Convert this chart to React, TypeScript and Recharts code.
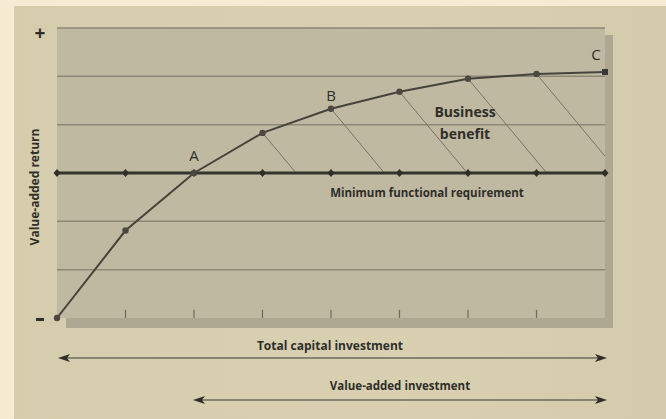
import { ComposedChart, Line, XAxis, YAxis, CartesianGrid, ReferenceLine, ReferenceDot } from 'recharts';

// investment steps along the x axis (0..8), return on a 0..6 scale
const steps = [0, 1, 2, 3, 4, 5, 6, 7, 8];
const returns = [0, 1.81, 3.0, 3.83, 4.33, 4.68, 4.95, 5.05, 5.09];
const minimumLevel = 3;
const gridLevels = [1, 2, 3, 4, 5, 6];
const tickSteps = [1, 2, 3, 4, 5, 6, 7];

// hatch lines from the curve down to the minimum line
const hatchFrom = [3, 4, 5, 6, 7];
const hatchTo = [
  { x: 3.49, y: 3 },
  { x: 4.78, y: 3 },
  { x: 5.99, y: 3 },
  { x: 7.15, y: 3 },
  { x: 8, y: 3.35 },
];

const pointLabels = [
  { x: 2, y: 3.35, text: 'A' },
  { x: 4, y: 4.6, text: 'B' },
  { x: 7.87, y: 5.45, text: 'C' },
];

const data = steps.map((s, i) => ({ step: s, value: returns[i], minimum: minimumLevel }));

const INK = '#45433b';
const FONT = '"Open Sans", "DejaVu Sans", sans-serif';

const Diamond = (props: any) => {
  const { cx, cy } = props;
  if (cx == null || cy == null) return null;
  return <path d={`M${cx} ${cy - 4}L${cx + 3.5} ${cy}L${cx} ${cy + 4}L${cx - 3.5} ${cy}Z`} fill="#2f2e29" />;
};

const Dot = (props: any) => {
  const { cx, cy, index } = props;
  if (cx == null || cy == null) return null;
  if (index === returns.length - 1) {
    return <rect x={cx - 3} y={cy - 3} width={6} height={6} fill="#3a3933" />;
  }
  return <circle cx={cx} cy={cy} r={3.2} fill="#4a4840" />;
};

function Arrow({ x1, x2, y }: { x1: number; x2: number; y: number }) {
  return (
    <g>
      <line x1={x1 + 6} x2={x2 - 6} y1={y} y2={y} stroke="#6d695c" strokeWidth={1.5} />
      <path d={`M${x1} ${y}L${x1 + 12} ${y - 4}L${x1 + 9} ${y}L${x1 + 12} ${y + 4}Z`} fill="#2f2e29" />
      <path d={`M${x2} ${y}L${x2 - 12} ${y - 4}L${x2 - 9} ${y}L${x2 - 12} ${y + 4}Z`} fill="#2f2e29" />
    </g>
  );
}

export default function App() {
  return (
    <div style={{ position: 'absolute', left: 0, top: 0, width: 666, height: 419, background: '#f6ecd4', overflow: 'hidden' }}>
      <div style={{ position: 'absolute', left: 14, top: 6, width: 652, height: 413, background: 'linear-gradient(90deg, #d6cdad 0%, #d9d0b2 60%, #d4cbac 100%)' }} />
      <div style={{ position: 'absolute', left: 66, top: 35, width: 547, height: 293, background: '#aea792' }} />
      <div style={{ position: 'absolute', left: 0, top: 0 }}>
        <ComposedChart width={666} height={419} data={data} margin={{ top: 28, right: 61, bottom: 101, left: 57 }}>
          <CartesianGrid
            vertical={false}
            fill="#c0b9a2"
            stroke="#8c8776"
            strokeWidth={1.5}
            horizontalValues={gridLevels}
          />
          <XAxis dataKey="step" type="number" domain={[0, 8]} hide />
          <YAxis type="number" domain={[0, 6]} hide />
          {tickSteps.map((t) => (
            <ReferenceLine key={`t${t}`} segment={[{ x: t, y: 0 }, { x: t, y: 0.17 }]} stroke="#6d695c" strokeWidth={1.2} />
          ))}
          {hatchFrom.map((h, i) => (
            <ReferenceLine
              key={`h${h}`}
              segment={[{ x: h, y: returns[h] }, hatchTo[i]]}
              stroke="#77736a"
              strokeWidth={1}
            />
          ))}
          <Line
            type="linear"
            dataKey="minimum"
            stroke="#35342e"
            strokeWidth={3}
            dot={<Diamond />}
            isAnimationActive={false}
          />
          <Line
            type="linear"
            dataKey="value"
            stroke={INK}
            strokeWidth={2}
            dot={<Dot />}
            isAnimationActive={false}
          />
          {pointLabels.map((p) => (
            <ReferenceDot
              key={p.text}
              x={p.x}
              y={p.y}
              r={0}
              label={{ value: p.text, position: 'center', fill: '#2f2e29', fontSize: 15, fontFamily: FONT }}
            />
          ))}
        </ComposedChart>
      </div>
      <svg width={666} height={419} style={{ position: 'absolute', left: 0, top: 0, pointerEvents: 'none' }}>
        <g fontFamily={FONT} fontWeight="bold" fill="#2f2e29">
          <text x={465} y={117} fontSize={14} textAnchor="middle">Business</text>
          <text x={465} y={139} fontSize={14} textAnchor="middle">benefit</text>
          <text x={427} y={197} fontSize={11.5} textAnchor="middle">Minimum functional requirement</text>
          <text x={330} y={350} fontSize={12} textAnchor="middle">Total capital investment</text>
          <text x={400} y={390} fontSize={11.5} textAnchor="middle">Value-added investment</text>
          <text x={36} y={187} fontSize={12} textAnchor="middle" transform="rotate(-90 36 187)" dominantBaseline="middle">Value-added return</text>
          <text x={40} y={40} fontSize={19} textAnchor="middle">+</text>
          <rect x={36} y={318} width={8} height={3} />
        </g>
        <Arrow x1={58} x2={607} y={358} />
        <Arrow x1={193} x2={607} y={400} />
      </svg>
    </div>
  );
}
